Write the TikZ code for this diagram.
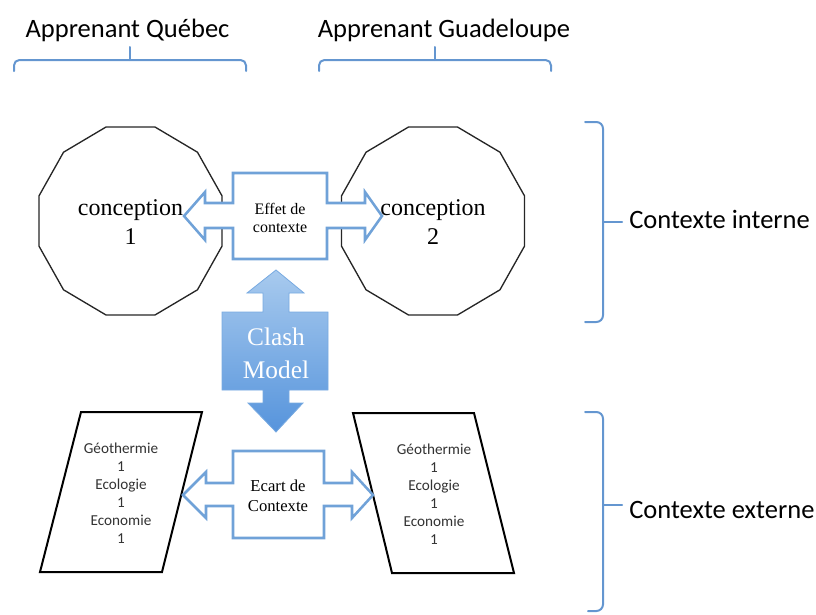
\documentclass[tikz,border=0pt]{standalone}
\usepackage{fontspec}
\setmainfont{Liberation Serif}
\newfontfamily\calibrifont{Carlito}
\definecolor{bracecol}{RGB}{100,150,208}
\definecolor{arrowblue}{RGB}{112,162,216}
\definecolor{clashtop}{RGB}{168,202,238}
\definecolor{clashbot}{RGB}{86,148,220}
\definecolor{clashedge}{RGB}{120,170,225}
\begin{document}
\begin{tikzpicture}[x=0.75pt,y=-0.75pt,
  bracestyle/.style={draw=bracecol, line width=1.5pt, rounded corners=4pt, line cap=round},
  bigarrow/.style={draw=arrowblue, line width=1.9pt, fill=white, line join=miter},
  poly/.style={draw=black!85, line width=1pt, fill=white},
  para/.style={draw=black, line width=1.5pt, fill=white, line join=miter},
  toplab/.style={font=\calibrifont\fontsize{19.9}{23}\selectfont, inner sep=0},
  conc/.style={font=\fontsize{18}{21.75}\selectfont, align=center, inner sep=0},
  small/.style={font=\fontsize{12}{13.5}\selectfont, align=center, inner sep=0},
  geo/.style={font=\calibrifont\fontsize{11.4}{13.5}\selectfont, align=center, inner sep=0, text=black!80}
]
\useasboundingbox (0,0) rectangle (816,614);

% top labels and brackets
\node[toplab, anchor=base] (lq) at (127.5,37) {Apprenant Québec};
\node[toplab, anchor=base] (lg) at (444,37) {Apprenant Guadeloupe};
\draw[bracestyle] (14,71) -- (14,60) -- (246,60) -- (246,71);
\draw[bracestyle] (130,60) -- (130,47);
\draw[bracestyle] (319,71) -- (319,60) -- (551,60) -- (551,71);
\draw[bracestyle] (435,60) -- (435,47);

% right braces
\draw[bracestyle, rounded corners=5pt] (585,122) -- (603,122) -- (603,322) -- (585,322);
\draw[bracestyle] (603,222) -- (622,222);
\node[toplab, anchor=base west] (ci) at (629,228) {Contexte interne};
\draw[bracestyle, rounded corners=5pt] (585,412) -- (603,412) -- (603,611) -- (588,611);
\draw[bracestyle] (603,505) -- (622,505);
\node[toplab, anchor=base west] (ce) at (629,518) {Contexte externe};

% dodecagons
\draw[poly] plot[samples at={15,45,...,345}] ({130.5+94.7*cos(\x)},{221+97.3*sin(\x)}) -- cycle;
\draw[poly] plot[samples at={15,45,...,345}] ({433+94.7*cos(\x)},{221+97.3*sin(\x)}) -- cycle;

% effet de contexte double arrow
\draw[bigarrow] (184,216) -- (205,192) -- (205,203) -- (233,203) -- (233,173) -- (327,173)
  -- (327,203) -- (365,203) -- (365,192) -- (382,216) -- (365,240) -- (365,228)
  -- (327,228) -- (327,259) -- (233,259) -- (233,228) -- (205,228) -- (205,240) -- cycle;
\node[small] (effet) at (280,218) {Effet de\\contexte};

\node[conc] (c1) at (130.5,222.5) {conception\\1};
\node[conc] (c2) at (433,222.5) {conception\\2};

% clash model arrow
\shade[top color=clashtop, bottom color=clashbot, draw=clashedge, line width=0.6pt]
  (276,270) -- (304,293) -- (289,293) -- (289,312) -- (328,312) -- (328,390) -- (289,390)
  -- (289,403) -- (303,403) -- (276,432) -- (248,403) -- (263,403) -- (263,390) -- (222,390)
  -- (222,312) -- (263,312) -- (263,293) -- (247,293) -- cycle;
\node[font=\fontsize{19}{24.75}\selectfont, align=center, inner sep=0, text=white] (clash) at (276,353) {Clash\\Model};

% parallelograms
\draw[para] (81,412) -- (202,412) -- (162,572) -- (40,572) -- cycle;
\draw[para] (353,413) -- (474,413) -- (514,573) -- (392,573) -- cycle;
\node[geo] (g1) at (121,493) {Géothermie\\1\\Ecologie\\1\\Economie\\1};
\node[geo] (g2) at (434,494) {Géothermie\\1\\Ecologie\\1\\Economie\\1};

% ecart de contexte double arrow
\draw[bigarrow] (183,495) -- (206,472) -- (206,483) -- (233,483) -- (233,451) -- (324,451)
  -- (324,483) -- (352,483) -- (352,472) -- (373,495) -- (352,518) -- (352,506)
  -- (324,506) -- (324,538) -- (233,538) -- (233,506) -- (206,506) -- (206,518) -- cycle;
\node[small, font=\fontsize{12.5}{15}\selectfont] (ecart) at (278,496) {Ecart de\\Contexte};
\end{tikzpicture}
\end{document}
